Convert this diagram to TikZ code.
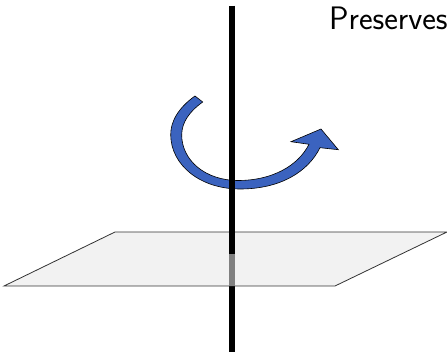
\documentclass[tikz,border=0pt]{standalone}
\begin{document}
\begin{tikzpicture}[x=1pt,y=-1pt,
  plane/.style={draw=black!80,line width=0.8pt,fill=black!5},
  axis/.style={line width=6pt,black},
  axisfaded/.style={line width=6pt,black!50},
  turn/.style={draw=black,line width=0.6pt,fill={rgb,255:red,59;green,99;blue,191}}]
\useasboundingbox (0,0) rectangle (447,352);
\draw[axis] (232,6) -- (232,352);
\draw[plane] (115,232) -- (447,232) -- (335,286) -- (4,286) -- cycle;
\draw[axis] (232,232) -- (232,254);
\draw[axisfaded] (232,254) -- (232,286);
\draw[turn] (195,96) .. controls (178,108) and (170.5,122) .. (170.7,135)
  .. controls (171,165) and (200,189) .. (240,189)
  .. controls (280,189) and (308,172) .. (320,147.7)
  -- (338.3,149.7) -- (321,129) -- (291,141.7) -- (309,144.3)
  .. controls (298,166) and (272,180.5) .. (238,180.5)
  .. controls (205,180.5) and (181.7,160) .. (181.7,135)
  .. controls (181.7,122) and (190,111) .. (202.7,102) -- cycle;
\draw[axis] (232,6) -- (232,232);
\node[anchor=base west,inner sep=0pt,font=\sffamily\fontsize{32.5}{38}\selectfont] (label) at (329,30) {Preserves};
\end{tikzpicture}
\end{document}
